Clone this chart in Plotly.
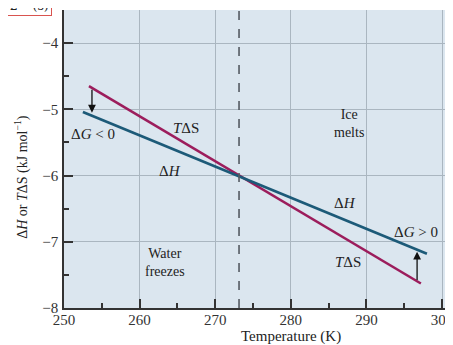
import plotly.graph_objects as go

# Data
tds_x = [253.3, 297.2]
tds_y = [-4.65, -7.63]
dh_x = [252.5, 298.0]
dh_y = [-5.04, -7.18]
t_melt = 273.15
x_ticks = [250, 260, 270, 280, 290, 300]
y_ticks = [-8, -7, -6, -5, -4]

SERIF = "Liberation Serif"
TDS_COLOR = "#9c1d5c"
DH_COLOR = "#1c5a78"

fig = go.Figure()
fig.add_trace(go.Scatter(x=tds_x, y=tds_y, mode="lines",
                         line=dict(color=TDS_COLOR, width=2.6), showlegend=False, hoverinfo="skip"))
fig.add_trace(go.Scatter(x=dh_x, y=dh_y, mode="lines",
                         line=dict(color=DH_COLOR, width=2.6), showlegend=False, hoverinfo="skip"))
fig.add_trace(go.Scatter(x=[t_melt, t_melt], y=[-8, -3.5], mode="lines",
                         line=dict(color="#555b62", width=1.6, dash="dash"), showlegend=False, hoverinfo="skip"))

ann = []
def label(x, y, text, size=15):
    ann.append(dict(x=x, y=y, xref="x", yref="y", text=text, showarrow=False,
                    font=dict(family=SERIF, size=size, color="#222")))

label(266.1, -5.28, "<i>T</i>ΔS")
label(253.9, -5.37, "Δ<i>G</i> < 0")
label(264.0, -5.93, "Δ<i>H</i>")
label(287.7, -5.22, "Ice<br>melts", 14)
label(287.2, -6.41, "Δ<i>H</i>")
label(296.6, -6.85, "Δ<i>G</i> > 0")
label(287.6, -7.30, "<i>T</i>ΔS")
label(263.3, -7.31, "Water<br>freezes", 14)

# arrows for ΔG
ann.append(dict(x=253.7, y=-5.05, ax=253.7, ay=-4.68, xref="x", yref="y", axref="x", ayref="y",
                showarrow=True, arrowhead=2, arrowsize=1.2, arrowwidth=1.3, arrowcolor="#111", text=""))
ann.append(dict(x=296.7, y=-7.15, ax=296.7, ay=-7.60, xref="x", yref="y", axref="x", ayref="y",
                showarrow=True, arrowhead=2, arrowsize=1.2, arrowwidth=1.3, arrowcolor="#111", text=""))

# axis titles
ann.append(dict(x=0.584, y=-0.094, xref="paper", yref="paper", text="Temperature (K)",
                showarrow=False, xanchor="center", yanchor="middle",
                font=dict(family=SERIF, size=15, color="#222")))
ann.append(dict(x=-0.108, y=0.44, xref="paper", yref="paper",
                text="Δ<i>H</i> or <i>T</i>ΔS (kJ mol<sup>−1</sup>)", textangle=-90,
                showarrow=False, xanchor="center", yanchor="middle",
                font=dict(family=SERIF, size=14, color="#222")))
# cropped box at top-left
ann.append(dict(x=-0.031, y=0.98, xref="paper", yref="paper", xanchor="right", yanchor="bottom",
                text="H<sub>2</sub>O<sub>(s)</sub>", showarrow=False,
                bordercolor="#d9534f", borderwidth=1, bgcolor="white", borderpad=2,
                font=dict(family="DejaVu Serif", size=18, color="#222")))

axis_common = dict(showline=True, linecolor="#333", linewidth=1.5, gridcolor="#aab6c0", gridwidth=1,
                   ticks="inside", ticklen=9, tickwidth=1.5, tickcolor="#333", zeroline=False,
                   ticklabeloverflow="allow",
                   tickfont=dict(family=SERIF, size=15, color="#333"))

fig.update_layout(
    width=445, height=337,
    margin=dict(l=56, r=0, t=2, b=37),
    paper_bgcolor="white", plot_bgcolor="#dbe6ef",
    xaxis=dict(range=[250, 301.45], tickvals=x_ticks, ticktext=[str(v) for v in x_ticks],
               ticklabelstandoff=-3,
               minor=dict(dtick=5, tick0=250, ticks="inside", ticklen=5, tickcolor="#333", showgrid=False),
               **axis_common),
    yaxis=dict(range=[-8, -3.5], tickvals=y_ticks, ticktext=["−8", "−7", "−6", "−5", "−4"],
               ticklabelstandoff=1,
               minor=dict(dtick=0.5, tick0=-8, ticks="inside", ticklen=5, tickcolor="#333", showgrid=False),
               **axis_common),
    annotations=ann,
)

fig.write_html("out.html")
